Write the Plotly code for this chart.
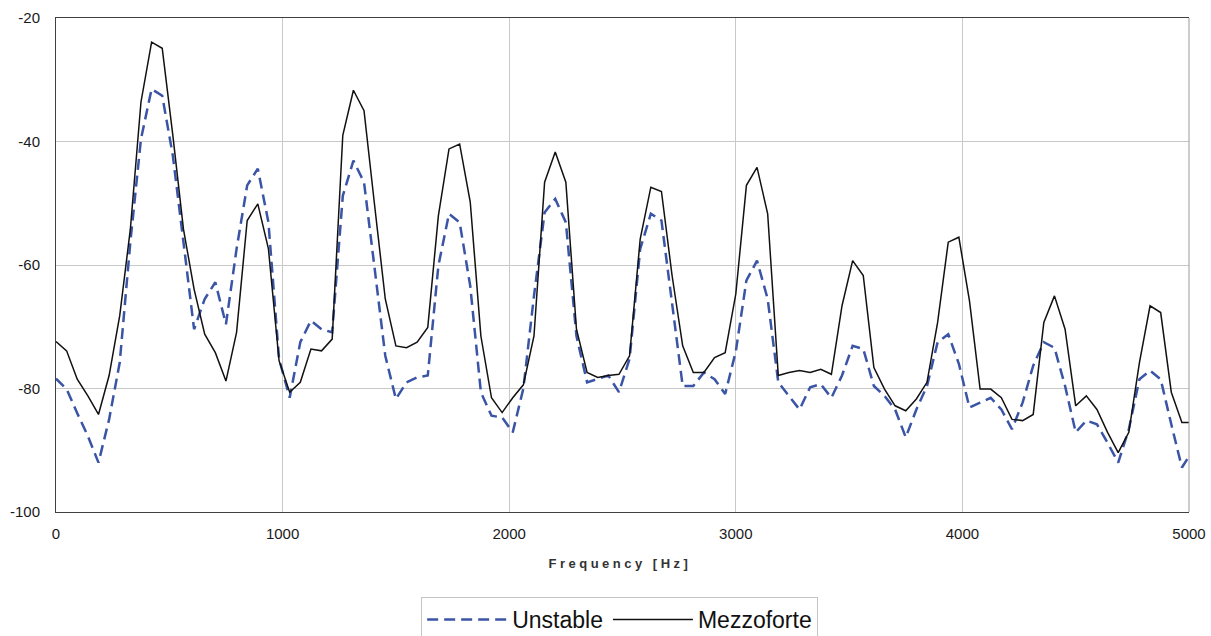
import plotly.graph_objects as go

# Spectrum bins (48 kHz / 1024-point FFT)
BIN_HZ = 46.875

# Magnitude spectra in dB, one value per FFT bin starting at 0 Hz
unstable = [
    -78.4, -80.1, -84.0, -87.7, -92.0, -85.0, -75.8, -56.3, -39.6, -31.5,
    -32.6, -42.3, -56.3, -70.4, -65.5, -62.8, -69.6, -57.4, -47.1, -44.4,
    -53.1, -75.2, -81.5, -72.5, -69.0, -70.4, -70.9, -48.8, -43.1, -46.6,
    -60.6, -74.7, -81.7, -79.0, -78.2, -77.9, -60.1, -51.7, -53.1, -63.4,
    -80.6, -84.4, -84.7, -87.1, -80.0, -65.0, -51.5, -49.3, -53.1, -71.5,
    -79.0, -78.5, -77.9, -80.6, -75.2, -57.4, -51.7, -52.8, -66.1, -79.6,
    -79.6, -77.4, -78.5, -80.9, -74.0, -62.5, -59.3, -65.5, -79.0, -81.2,
    -83.4, -79.8, -79.3, -81.5, -77.9, -73.1, -73.6, -79.6, -81.2, -83.4,
    -87.9, -83.4, -79.6, -72.5, -71.2, -76.0, -83.1, -82.3, -81.5, -83.4,
    -86.6, -82.3, -76.3, -72.5, -73.4, -79.6, -87.1, -85.2, -85.8, -88.8,
    -92.0, -86.6, -78.5, -77.1, -78.5, -85.8, -92.8, -90.1,
]

mezzoforte = [
    -72.4, -73.9, -78.5, -81.2, -84.2, -77.9, -68.2, -54.2, -33.6, -23.9,
    -24.9, -39.0, -54.2, -63.9, -71.2, -74.2, -78.8, -70.9, -52.8, -50.1,
    -57.4, -75.5, -80.6, -79.0, -73.6, -73.9, -72.0, -39.0, -31.7, -35.0,
    -50.4, -65.5, -73.1, -73.4, -72.5, -70.1, -52.0, -41.2, -40.4, -49.8,
    -71.5, -81.5, -83.9, -81.5, -79.4, -71.5, -46.6, -41.7, -46.6, -70.4,
    -77.4, -78.2, -77.9, -77.7, -74.7, -55.8, -47.4, -48.1, -61.7, -73.1,
    -77.4, -77.4, -75.0, -74.2, -64.7, -47.1, -44.2, -51.7, -77.9, -77.4,
    -77.1, -77.4, -76.9, -77.7, -66.6, -59.3, -61.7, -76.6, -80.1, -82.8,
    -83.6, -81.7, -79.0, -69.3, -56.3, -55.5, -65.8, -80.1, -80.1, -81.5,
    -85.0, -85.2, -84.2, -69.3, -65.0, -70.4, -82.8, -81.2, -83.4, -87.1,
    -90.4, -87.1, -75.8, -66.6, -67.7, -80.6, -85.5, -85.5,
]

x_ticks = [0, 1000, 2000, 3000, 4000, 5000]
y_ticks = [-100, -80, -60, -40, -20]

freq_u = [k * BIN_HZ for k in range(len(unstable))]
freq_m = [k * BIN_HZ for k in range(len(mezzoforte))]

FONT = "Liberation Sans, Arial, sans-serif"
BLUE = "#3A54A6"

fig = go.Figure()
fig.add_trace(go.Scatter(
    x=freq_u, y=unstable, mode="lines", name="Unstable",
    line=dict(color=BLUE, width=2.5, dash="11px,6px"),
))
fig.add_trace(go.Scatter(
    x=freq_m, y=mezzoforte, mode="lines", name="Mezzoforte",
    line=dict(color="#111111", width=1.5),
))

fig.update_layout(
    width=1211, height=636,
    margin=dict(l=56, r=22, t=18, b=124, autoexpand=False),
    paper_bgcolor="white", plot_bgcolor="white",
    font=dict(family=FONT, color="#1a1a1a"),
    showlegend=True,
    legend=dict(
        orientation="h", x=0.4975, xanchor="center", y=-0.172, yanchor="top",
        font=dict(family=FONT, size=23, color="#111111"),
        bordercolor="#c4c4c4", borderwidth=1, bgcolor="white",
        itemwidth=80, tracegroupgap=0, itemclick=False,
    ),
    annotations=[dict(
        text="<b>Frequency [Hz]</b>", xref="paper", yref="paper",
        x=0.498, y=-0.104, xanchor="center", yanchor="middle",
        showarrow=False, font=dict(family=FONT, size=13, color="#333333"),
    )],
    shapes=[dict(
        type="line", xref="paper", yref="paper", x0=1, x1=1, y0=0, y1=1,
        line=dict(color="#9a9a9a", width=1),
    )],
)

fig.update_xaxes(
    range=[0, 5000], tickmode="array", tickvals=x_ticks,
    ticktext=[str(v) for v in x_ticks],
    showgrid=True, gridcolor="#c8c8c8", gridwidth=1, zeroline=False,
    showline=True, linecolor="#404040", linewidth=1, mirror=True,
    ticks="", ticklabelstandoff=8,
    tickfont=dict(family=FONT, size=15, color="#1a1a1a"),
)
fig.update_yaxes(
    range=[-100, -20], tickmode="array", tickvals=y_ticks,
    ticktext=[str(v) for v in y_ticks],
    showgrid=True, gridcolor="#c8c8c8", gridwidth=1, zeroline=False,
    showline=True, linecolor="#404040", linewidth=1,
    ticks="", ticklabelstandoff=12,
    tickfont=dict(family=FONT, size=15, color="#1a1a1a"),
)

# Spread the letters of the axis caption
spacing_js = """
document.querySelectorAll('.annotation-text').forEach(function(t){
  t.style.letterSpacing = '3.5px';
});
"""

fig.write_html("out.html", post_script=spacing_js)
